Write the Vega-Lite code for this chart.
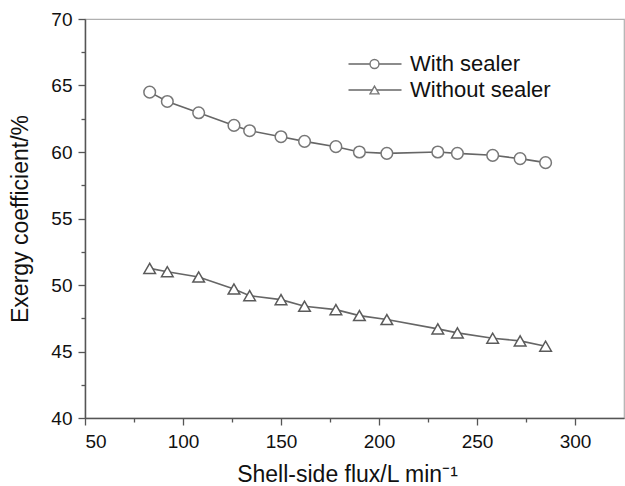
{
  "$schema": "https://vega.github.io/schema/vega-lite/v6.json",
  "width": 539,
  "height": 399,
  "autosize": "none",
  "padding": {"left": 85, "top": 19, "right": 1, "bottom": 68},
  "background": "white",
  "config": {
    "view": {"stroke": "#b0b0b0", "strokeWidth": 1.2},
    "font": "Liberation Sans",
    "axis": {
      "grid": false,
      "domainColor": "#555",
      "domainWidth": 1.5,
      "tickColor": "#555",
      "tickWidth": 1.3,
      "labelFont": "Liberation Sans",
      "labelFontSize": 19,
      "labelColor": "#111",
      "titleFont": "Liberation Sans",
      "titleFontSize": 23,
      "titleFontWeight": "normal",
      "titleColor": "#111"
    }
  },
  "data": {
    "values": [
      {"flux": 83, "exergy": 64.5, "series": "With sealer"},
      {"flux": 92, "exergy": 63.8, "series": "With sealer"},
      {"flux": 108, "exergy": 62.95, "series": "With sealer"},
      {"flux": 126, "exergy": 62.0, "series": "With sealer"},
      {"flux": 134, "exergy": 61.6, "series": "With sealer"},
      {"flux": 150, "exergy": 61.15, "series": "With sealer"},
      {"flux": 162, "exergy": 60.8, "series": "With sealer"},
      {"flux": 178, "exergy": 60.4, "series": "With sealer"},
      {"flux": 190, "exergy": 60.0, "series": "With sealer"},
      {"flux": 204, "exergy": 59.9, "series": "With sealer"},
      {"flux": 230, "exergy": 60.0, "series": "With sealer"},
      {"flux": 240, "exergy": 59.9, "series": "With sealer"},
      {"flux": 258, "exergy": 59.75, "series": "With sealer"},
      {"flux": 272, "exergy": 59.5, "series": "With sealer"},
      {"flux": 285, "exergy": 59.2, "series": "With sealer"},
      {"flux": 83, "exergy": 51.25, "series": "Without sealer"},
      {"flux": 92, "exergy": 51.0, "series": "Without sealer"},
      {"flux": 108, "exergy": 50.6, "series": "Without sealer"},
      {"flux": 126, "exergy": 49.7, "series": "Without sealer"},
      {"flux": 134, "exergy": 49.2, "series": "Without sealer"},
      {"flux": 150, "exergy": 48.9, "series": "Without sealer"},
      {"flux": 162, "exergy": 48.4, "series": "Without sealer"},
      {"flux": 178, "exergy": 48.15, "series": "Without sealer"},
      {"flux": 190, "exergy": 47.7, "series": "Without sealer"},
      {"flux": 204, "exergy": 47.4, "series": "Without sealer"},
      {"flux": 230, "exergy": 46.7, "series": "Without sealer"},
      {"flux": 240, "exergy": 46.4, "series": "Without sealer"},
      {"flux": 258, "exergy": 46.0, "series": "Without sealer"},
      {"flux": 272, "exergy": 45.8, "series": "Without sealer"},
      {"flux": 285, "exergy": 45.4, "series": "Without sealer"}
    ]
  },
  "encoding": {
    "x": {
      "field": "flux",
      "type": "quantitative",
      "scale": {"domain": [50, 325], "nice": false, "zero": false},
      "axis": {
        "title": "Shell-side flux/L min⁻¹",
        "values": [50, 75, 100, 125, 150, 175, 200, 225, 250, 275, 300],
        "labelExpr": "datum.value % 50 === 0 ? datum.label : ''",
        "tickSize": {"condition": {"test": "datum.value % 50 === 0", "value": 7}, "value": 4},
        "labelPadding": 7,
        "titlePadding": 12,
        "titleX": 262
      }
    },
    "y": {
      "field": "exergy",
      "type": "quantitative",
      "scale": {"domain": [40, 70], "nice": false, "zero": false},
      "axis": {
        "title": "Exergy coefficient/%",
        "values": [40, 42.5, 45, 47.5, 50, 52.5, 55, 57.5, 60, 62.5, 65, 67.5, 70],
        "labelExpr": "datum.value % 5 === 0 ? datum.label : ''",
        "tickSize": {"condition": {"test": "datum.value % 5 === 0", "value": 7}, "value": 4},
        "labelPadding": 6,
        "titlePadding": 18
      }
    }
  },
  "layer": [
    {
      "mark": {"type": "line", "strokeWidth": 1.6},
      "encoding": {
        "color": {
          "field": "series",
          "type": "nominal",
          "scale": {"range": ["#666666", "#666666"]},
          "legend": {
            "title": null,
            "orient": "none",
            "legendX": 262.5,
            "legendY": 34,
            "padding": 0,
            "symbolType": "stroke",
            "symbolSize": 2809,
            "symbolStrokeWidth": 1.5,
            "symbolStrokeColor": "#666",
            "clipHeight": 22,
            "labelExpr": "''",
            "labelFontSize": 22,
            "rowPadding": 4
          }
        }
      }
    },
    {
      "mark": {"type": "point", "fill": "white", "fillOpacity": 1, "strokeWidth": 1.5, "opacity": 1, "size": 135},
      "encoding": {
        "shape": {
          "field": "series",
          "type": "nominal",
          "scale": {"domain": ["With sealer", "Without sealer"], "range": ["circle", "triangle-up"]},
          "legend": {
            "title": null,
            "orient": "none",
            "legendX": 278.5,
            "legendY": 34,
            "padding": 0,
            "symbolSize": 80,
            "symbolStrokeWidth": 1.4,
            "clipHeight": 22,
            "labelOffset": 24.5,
            "labelFontSize": 22,
            "labelFont": "Liberation Sans",
            "labelColor": "#111",
            "rowPadding": 4
          }
        },
        "stroke": {"condition": {"test": "datum.series === 'Without sealer'", "value": "#5a5a5a"}, "value": "#777777"}
      }
    }
  ]
}
